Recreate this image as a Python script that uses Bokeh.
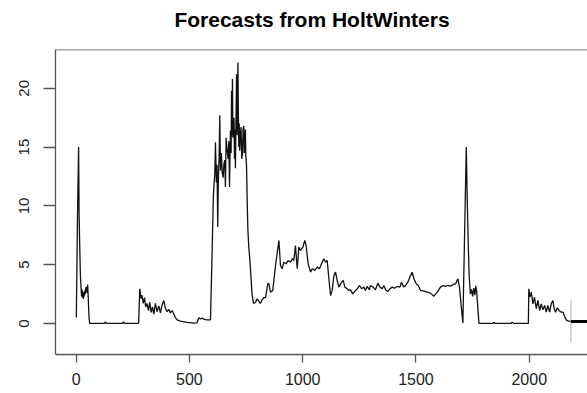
from bokeh.plotting import figure
from bokeh.models import Range1d, FixedTicker, Span, Div
from bokeh.layouts import column
from bokeh.embed import file_html
from bokeh.resources import INLINE

title_text = "Forecasts from HoltWinters"
x_ticks = [0, 500, 1000, 1500, 2000]
y_ticks = [0, 5, 10, 15, 20]

series_t = [
    1, 6, 11, 13, 16, 19, 22, 24, 26, 28, 30, 32, 34, 36, 38, 40, 42, 45, 48, 51, 54, 57, 60,
    90, 125, 129, 133, 170, 205, 209, 213, 250, 274,
    276, 281, 287, 291, 296, 302, 307, 313, 319, 325, 331, 337, 343, 350, 357, 365, 372, 380,
    387, 394, 402, 409, 416, 424, 431, 438, 446, 460, 490, 519, 534, 541, 548, 556, 565, 578, 590,
    593, 600, 606, 612, 615, 619, 622, 625, 628, 631, 634, 637, 641, 645, 649, 652, 656, 659,
    662, 666, 671, 674, 677, 681, 684, 686, 688, 690, 692, 694, 697, 699, 701, 703, 706, 708,
    711, 714, 716, 718, 720, 722, 725, 728, 731, 734, 737, 740, 742, 744, 747, 749, 752, 755,
    758, 762, 766, 770, 774, 777, 783, 792, 799, 806, 813, 821, 828, 836, 842, 846,
    851, 858, 868, 880, 895, 902, 909, 917, 927, 936, 946, 954, 961, 968, 976, 983, 990, 1001,
    1009, 1015, 1024, 1035, 1042, 1054, 1064, 1074, 1086, 1093, 1101, 1108, 1115, 1123, 1130,
    1138, 1145, 1152, 1160, 1171, 1179, 1186, 1196, 1204, 1211, 1221, 1233, 1241, 1251, 1260,
    1270, 1277, 1285, 1295,
    1299, 1311, 1321, 1332, 1341, 1351, 1358, 1366, 1376, 1385, 1395, 1405, 1417, 1429, 1436,
    1446, 1454, 1464, 1473, 1483, 1491, 1501, 1510, 1520, 1535, 1550, 1564, 1579, 1594, 1608,
    1620, 1630, 1641, 1653, 1664, 1675, 1685, 1692, 1700, 1707,
    1722, 1726, 1731, 1735, 1740, 1745, 1750, 1755, 1760, 1764, 1768, 1772, 1778,
    1840, 1844, 1848, 1920, 1925, 1930, 1996,
    1998, 2003, 2009, 2016, 2023, 2031, 2038, 2046, 2053, 2060, 2068, 2075, 2082, 2090, 2097,
    2104, 2110, 2116, 2124, 2131, 2141, 2149, 2157, 2165, 2175, 2183,
]
series_v = [
    0.5, 9.0, 15.0, 9.5, 6.5, 4.0, 3.0, 2.3, 2.9, 2.2, 2.7, 2.1, 2.6, 2.3, 2.8, 2.5, 2.9, 3.1, 2.6, 3.3, 2.0, 0.5, 0.0,
    0.0, 0.0, 0.15, 0.0, 0.0, 0.0, 0.15, 0.0, 0.0, 0.02,
    0.0, 2.95, 2.1, 2.4, 1.7, 2.2, 1.4, 1.7, 1.1, 1.8, 0.95, 1.4, 0.8, 1.7, 1.0, 1.5, 0.9, 1.6,
    1.95, 1.3, 1.0, 1.2, 0.9, 1.1, 0.8, 0.5, 0.3, 0.2, 0.1, 0.03, 0.05, 0.48, 0.38, 0.45, 0.35, 0.3, 0.3,
    0.3, 5.9, 11.0, 12.7, 15.4, 12.0, 13.5, 8.2, 12.5, 14.0, 17.7, 13.0, 14.5, 12.8, 12.4, 13.5, 13.9, 11.6,
    15.8, 14.8, 14.0, 15.5, 11.6, 16.4, 14.5, 19.8, 16.0, 20.8, 15.8, 17.0, 17.5, 14.0, 16.5, 13.2, 18.0, 21.2,
    16.0, 22.2, 18.1, 15.0, 17.0, 14.7, 16.0, 16.7, 14.0, 14.4, 16.5, 16.8, 14.5, 14.7, 16.5, 14.2, 13.5, 10.5,
    8.0, 6.5, 5.6, 4.5, 3.2, 2.4, 1.7, 1.8, 2.1, 1.9, 1.7, 2.0, 2.2, 2.2, 2.9, 3.4,
    3.37, 2.66, 2.81, 4.93, 7.06, 4.93, 4.65, 5.21, 5.07, 5.36, 5.21, 5.50, 5.36, 6.63, 4.65, 6.49, 6.21, 6.49,
    7.06, 6.63, 5.07, 4.37, 4.65, 4.51, 4.79, 4.65, 5.21, 5.50, 5.21, 5.36, 3.94, 2.38, 2.81,
    4.08, 4.37, 3.66, 3.09, 3.51, 3.66, 3.09, 2.95, 2.81, 2.86, 2.52, 2.81, 2.95, 3.23, 2.95,
    3.09, 2.81, 3.15, 2.86,
    3.23, 3.09, 2.86, 3.43, 3.09, 2.95, 3.23, 2.86, 2.72, 2.95, 3.09, 3.0, 3.15, 3.09, 3.51,
    3.09, 3.23, 3.51, 3.94, 4.36, 3.80, 3.37, 3.23, 2.81, 2.75, 2.66, 2.58, 2.32, 2.66, 3.09,
    3.23, 3.15, 3.23, 3.17, 3.32, 3.37, 3.80, 3.09, 1.39, 0.05,
    15.0, 10.7, 6.5, 4.0, 2.5, 2.9, 2.3, 3.0, 2.4, 3.2, 2.7, 1.6, 0.0,
    0.0, 0.12, 0.0, 0.0, 0.12, 0.0, 0.0,
    2.95, 2.24, 2.66, 1.67, 2.24, 1.25, 1.96, 1.1, 1.67, 1.16, 1.53, 0.96, 1.53, 0.96, 1.67,
    1.96, 1.25, 0.96, 1.33, 1.1, 0.96, 0.96, 0.54, 0.26, 0.2, 0.17,
]

forecast_t = [2184, 2300]
forecast_v = [0.17, 0.17]
interval_t = [2184, 2184]
interval_v = [-1.59, 1.96]

y_lo, y_hi = -2.64, 23.3
x_lo, x_hi = -91, 2257

title_div = Div(
    text=('<div style="width:587px;text-align:center;padding-left:37px;box-sizing:border-box;'
          'font-family:\'Liberation Sans\';font-weight:bold;font-size:21px;line-height:40px;'
          'color:black;">' + title_text + '</div>'),
    width=587, height=48, margin=0)

p = figure(width=587, height=345, output_backend="svg", toolbar_location=None,
           x_range=Range1d(x_lo, x_hi), y_range=Range1d(y_lo, y_hi),
           min_border_left=55, min_border_right=0, min_border_top=1, min_border_bottom=39,
           margin=0)
p.background_fill_color = "white"
p.border_fill_color = "white"
p.outline_line_color = None
p.xgrid.grid_line_color = None
p.ygrid.grid_line_color = None

axis_col = "#555555"
for ax in (p.xaxis[0], p.yaxis[0]):
    ax.axis_line_color = axis_col
    ax.axis_line_width = 1.3
    ax.major_tick_line_color = axis_col
    ax.major_tick_line_width = 1.3
    ax.major_tick_in = 0
    ax.minor_tick_line_color = None
    ax.major_label_text_font = "Liberation Sans"
    ax.major_label_text_color = "#222222"

p.xaxis.ticker = FixedTicker(ticks=x_ticks)
p.yaxis.ticker = FixedTicker(ticks=y_ticks)
p.xaxis.major_tick_out = 8
p.yaxis.major_tick_out = 12
p.xaxis.major_label_standoff = 10
p.yaxis.major_label_standoff = 14
p.xaxis.major_label_text_font_size = "16px"
p.yaxis.major_label_text_font_size = "15px"
p.yaxis.major_label_orientation = "vertical"

p.add_layout(Span(location=y_hi, dimension="width", line_color=axis_col, line_width=1.3))

p.line(interval_t, interval_v, line_color="#aaaaaa", line_width=1)
p.line(series_t, series_v, line_color="#111111", line_width=1.3)
p.line(forecast_t, forecast_v, line_color="black", line_width=3)

layout = column(title_div, p, spacing=0, margin=0)
open("out.html", "w").write(file_html(layout, INLINE))
